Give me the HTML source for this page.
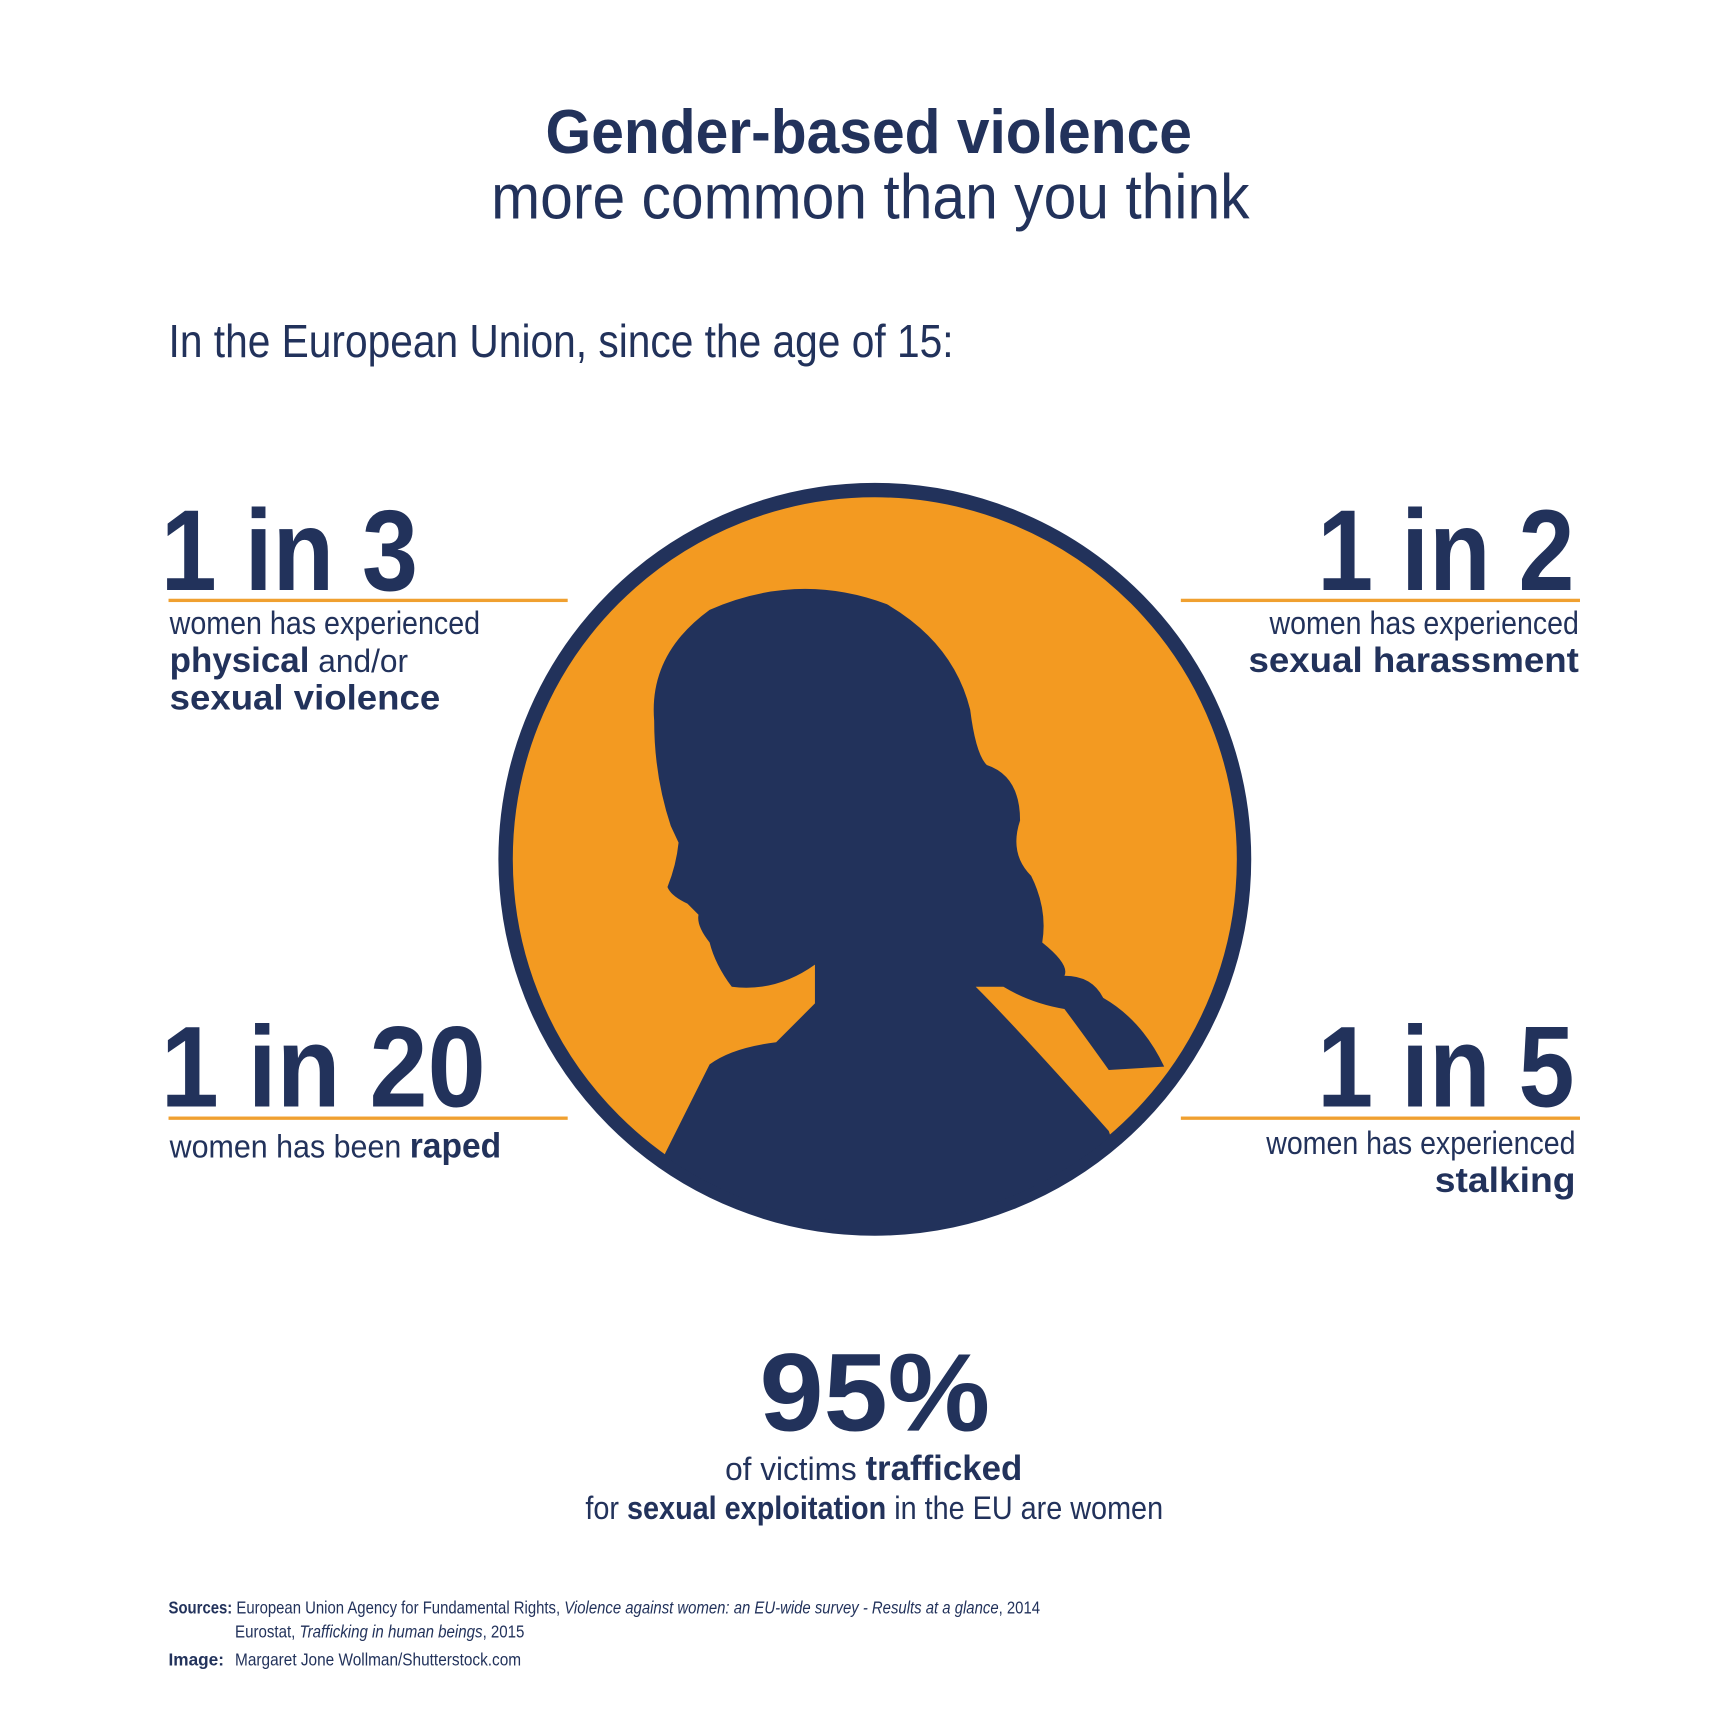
<!DOCTYPE html>
<html><head><meta charset="utf-8"><style>
html,body{margin:0;padding:0;background:#fff}
svg{display:block}
text{font-family:"Liberation Sans",sans-serif;fill:#22325B}
.b{font-weight:bold}
</style></head><body>
<svg width="1733" height="1733" viewBox="0 0 1563 1563" xmlns="http://www.w3.org/2000/svg">
<rect width="1563" height="1563" fill="#fff"/>
<text x="492" y="138" class="b" font-size="56" textLength="583" lengthAdjust="spacingAndGlyphs">Gender-based violence</text>
<text x="443" y="197" font-size="57" textLength="684" lengthAdjust="spacingAndGlyphs">more common than you think</text>
<text x="152" y="322" font-size="42" textLength="708" lengthAdjust="spacingAndGlyphs">In the European Union, since the age of 15:</text>

<defs><clipPath id="c"><circle cx="789" cy="775" r="328"/></clipPath></defs>
<circle cx="789" cy="775" r="333" fill="#F39A21" stroke="#22325B" stroke-width="13"/>
<g clip-path="url(#c)">
<path fill="#22325B" d="M600,1040 L640,960 Q660,945 700,940 L735,905 L735,870 Q700,895 660,890 Q645,870 640,850 Q628,835 630,825 L620,815 Q605,808 602,800 Q610,780 612,760 L605,745 Q590,700 590,650 Q585,590 640,550 Q720,515 800,545 Q860,580 875,640 Q880,680 890,690 Q920,700 920,740 Q910,770 930,790 Q945,820 940,850 Q965,870 960,880 Q985,880 995,900 Q1030,920 1050,962 L1000,965 Q975,930 960,910 Q930,905 905,890 L880,890 Q920,930 1000,1020 L1040,1140 L570,1140 Z"/>
</g>

<text x="145" y="532" class="b" font-size="104" textLength="232" lengthAdjust="spacingAndGlyphs">1 in 3</text>
<rect x="152" y="540" width="360" height="3" fill="#F0A030"/>
<text x="153" y="572" font-size="29" textLength="280" lengthAdjust="spacingAndGlyphs">women has experienced</text>
<text x="153" y="606" font-size="32" textLength="215" lengthAdjust="spacingAndGlyphs"><tspan class="b">physical</tspan><tspan font-size="29"> and/or</tspan></text>
<text x="153" y="640" class="b" font-size="32" textLength="244" lengthAdjust="spacingAndGlyphs">sexual violence</text>

<text x="1188" y="532" class="b" font-size="104" textLength="232" lengthAdjust="spacingAndGlyphs">1 in 2</text>
<rect x="1065" y="540" width="360" height="3" fill="#F0A030"/>
<text x="1145" y="572" font-size="29" textLength="279" lengthAdjust="spacingAndGlyphs">women has experienced</text>
<text x="1126" y="606" class="b" font-size="32" textLength="298" lengthAdjust="spacingAndGlyphs">sexual harassment</text>

<text x="145" y="998" class="b" font-size="104" textLength="293" lengthAdjust="spacingAndGlyphs">1 in 20</text>
<rect x="152" y="1007" width="360" height="3" fill="#F0A030"/>
<text x="153" y="1044" font-size="29" textLength="299" lengthAdjust="spacingAndGlyphs">women has been <tspan class="b" font-size="32">raped</tspan></text>

<text x="1188" y="998" class="b" font-size="104" textLength="232" lengthAdjust="spacingAndGlyphs">1 in 5</text>
<rect x="1065" y="1007" width="360" height="3" fill="#F0A030"/>
<text x="1142" y="1041" font-size="29" textLength="279" lengthAdjust="spacingAndGlyphs">women has experienced</text>
<text x="1294" y="1075" class="b" font-size="32" textLength="127" lengthAdjust="spacingAndGlyphs">stalking</text>

<text x="685" y="1290" class="b" font-size="100" textLength="208" lengthAdjust="spacingAndGlyphs">95%</text>
<text x="654" y="1335" font-size="29" textLength="268" lengthAdjust="spacingAndGlyphs">of victims <tspan class="b" font-size="32">trafficked</tspan></text>
<text x="528" y="1370" font-size="29" textLength="521" lengthAdjust="spacingAndGlyphs">for <tspan class="b">sexual exploitation</tspan> in the EU are women</text>

<text x="152" y="1455" font-size="16" textLength="786" lengthAdjust="spacingAndGlyphs"><tspan class="b">Sources:</tspan> European Union Agency for Fundamental Rights, <tspan font-style="italic">Violence against women: an EU-wide survey - Results at a glance</tspan>, 2014</text>
<text x="212" y="1477" font-size="16" textLength="261" lengthAdjust="spacingAndGlyphs">Eurostat, <tspan font-style="italic">Trafficking in human beings</tspan>, 2015</text>
<text x="152" y="1502" class="b" font-size="16" textLength="50" lengthAdjust="spacingAndGlyphs">Image:</text>
<text x="212" y="1502" font-size="16" textLength="258" lengthAdjust="spacingAndGlyphs">Margaret Jone Wollman/Shutterstock.com</text>
</svg>
</body></html>
